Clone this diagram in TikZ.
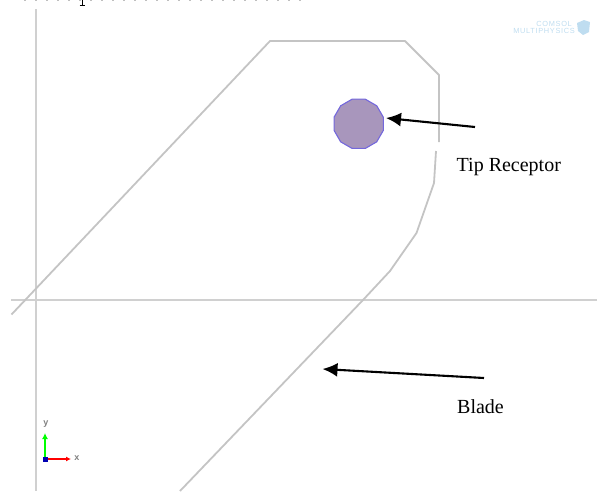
\documentclass[tikz,border=0pt]{standalone}
\usepackage{fontspec}
\usetikzlibrary{arrows.meta,shapes.geometric}
\setmainfont{Liberation Serif}
\newfontfamily\sansf{Liberation Sans}
\newfontfamily\logof[LetterSpace=9]{Liberation Sans}
\definecolor{edgegray}{HTML}{C4C4C4}
\definecolor{axisgray}{HTML}{D0D0D0}
\definecolor{recfill}{HTML}{A896BC}
\definecolor{recedge}{HTML}{7468DC}
\definecolor{logoblue}{HTML}{BFDDF0}
\tikzset{
  x=1pt,y=-1pt,
  blade/.style={draw=edgegray,line width=1.8pt,line join=round},
  axisline/.style={draw=axisgray,line width=1.6pt},
  pointer/.style={draw=black,line width=2.1pt,-{Latex[length=15pt,width=14pt]}},
  lbl/.style={font=\fontsize{20}{22}\selectfont,inner sep=0pt,text=black},
  logotext/.style={font=\logof\fontsize{7.4}{7.4}\selectfont,text=logoblue,inner sep=0pt,anchor=base east},
}
\begin{document}
\begin{tikzpicture}
\useasboundingbox (0,0) rectangle (597,491);
% clipped remains of a line of text at the top edge
\draw[black!25,line width=0.8pt,dash pattern=on 2pt off 9pt] (24,0.4) -- (305,0.4);
\draw[black,line width=1pt] (82,0) -- (82,5);
\draw[black,line width=0.8pt] (79.5,5) -- (84.5,5);
% axes
\coordinate (ax1) at (35.5,9);
\coordinate (ax2) at (35.5,491);
\coordinate (ax3) at (11,300);
\coordinate (ax4) at (597,300);
\draw[axisline,line width=2pt] (ax1) -- (ax2);
\draw[axisline] (ax3) -- (ax4);
% blade
\draw[blade] (11.5,314.5) -- (270,41) -- (405,41) -- (439,75) -- (439,142);
\draw[blade] (436,151) -- (434,183) -- (416.5,233) -- (390,271) -- (363,300) -- (180,491);
% receptor
\node[draw=recedge,fill=recfill,line width=1.1pt,regular polygon,regular polygon sides=12,minimum size=51pt,inner sep=0pt] (tip) at (358.7,123.8) {};
% labels
\node[lbl,anchor=base west] (tipl) at (456.5,171) {Tip Receptor};
\node[lbl,anchor=base west] (bladel) at (457,413) {Blade};
\coordinate (a1s) at (475,127);
\coordinate (a1e) at (386,118);
\coordinate (a2s) at (484,378);
\coordinate (a2e) at (322.5,369);
\draw[pointer] (a1s) -- (a1e);
\draw[pointer] (a2s) -- (a2e);
% triad
\coordinate (o) at (45,459);
\coordinate (ox) at (71,459);
\coordinate (oy) at (45,433);
\draw[red,line width=1.2pt,-{Latex[length=5pt,width=5pt]}] (o) -- (ox);
\draw[green,line width=1.5pt,-{Latex[length=6pt,width=6pt]}] (o) -- (oy);
\fill[blue!70!black] (43,457) rectangle (47.5,461.5);
\node[font=\sansf\bfseries\fontsize{9}{10}\selectfont,text=gray,inner sep=0pt] (xl) at (77,458.5) {x};
\node[font=\sansf\bfseries\fontsize{9}{10}\selectfont,text=gray,inner sep=0pt] (yl) at (46,424.5) {y};
% logo
\node[logotext] (logoa) at (572,26) {COMSOL};
\node[logotext] (logob) at (575,33.5) {MULTIPHYSICS};
\fill[logoblue] (577,23) -- (584,20) -- (590,22) -- (589,32) -- (583,35) -- (578,31) -- cycle;
\end{tikzpicture}
\end{document}
